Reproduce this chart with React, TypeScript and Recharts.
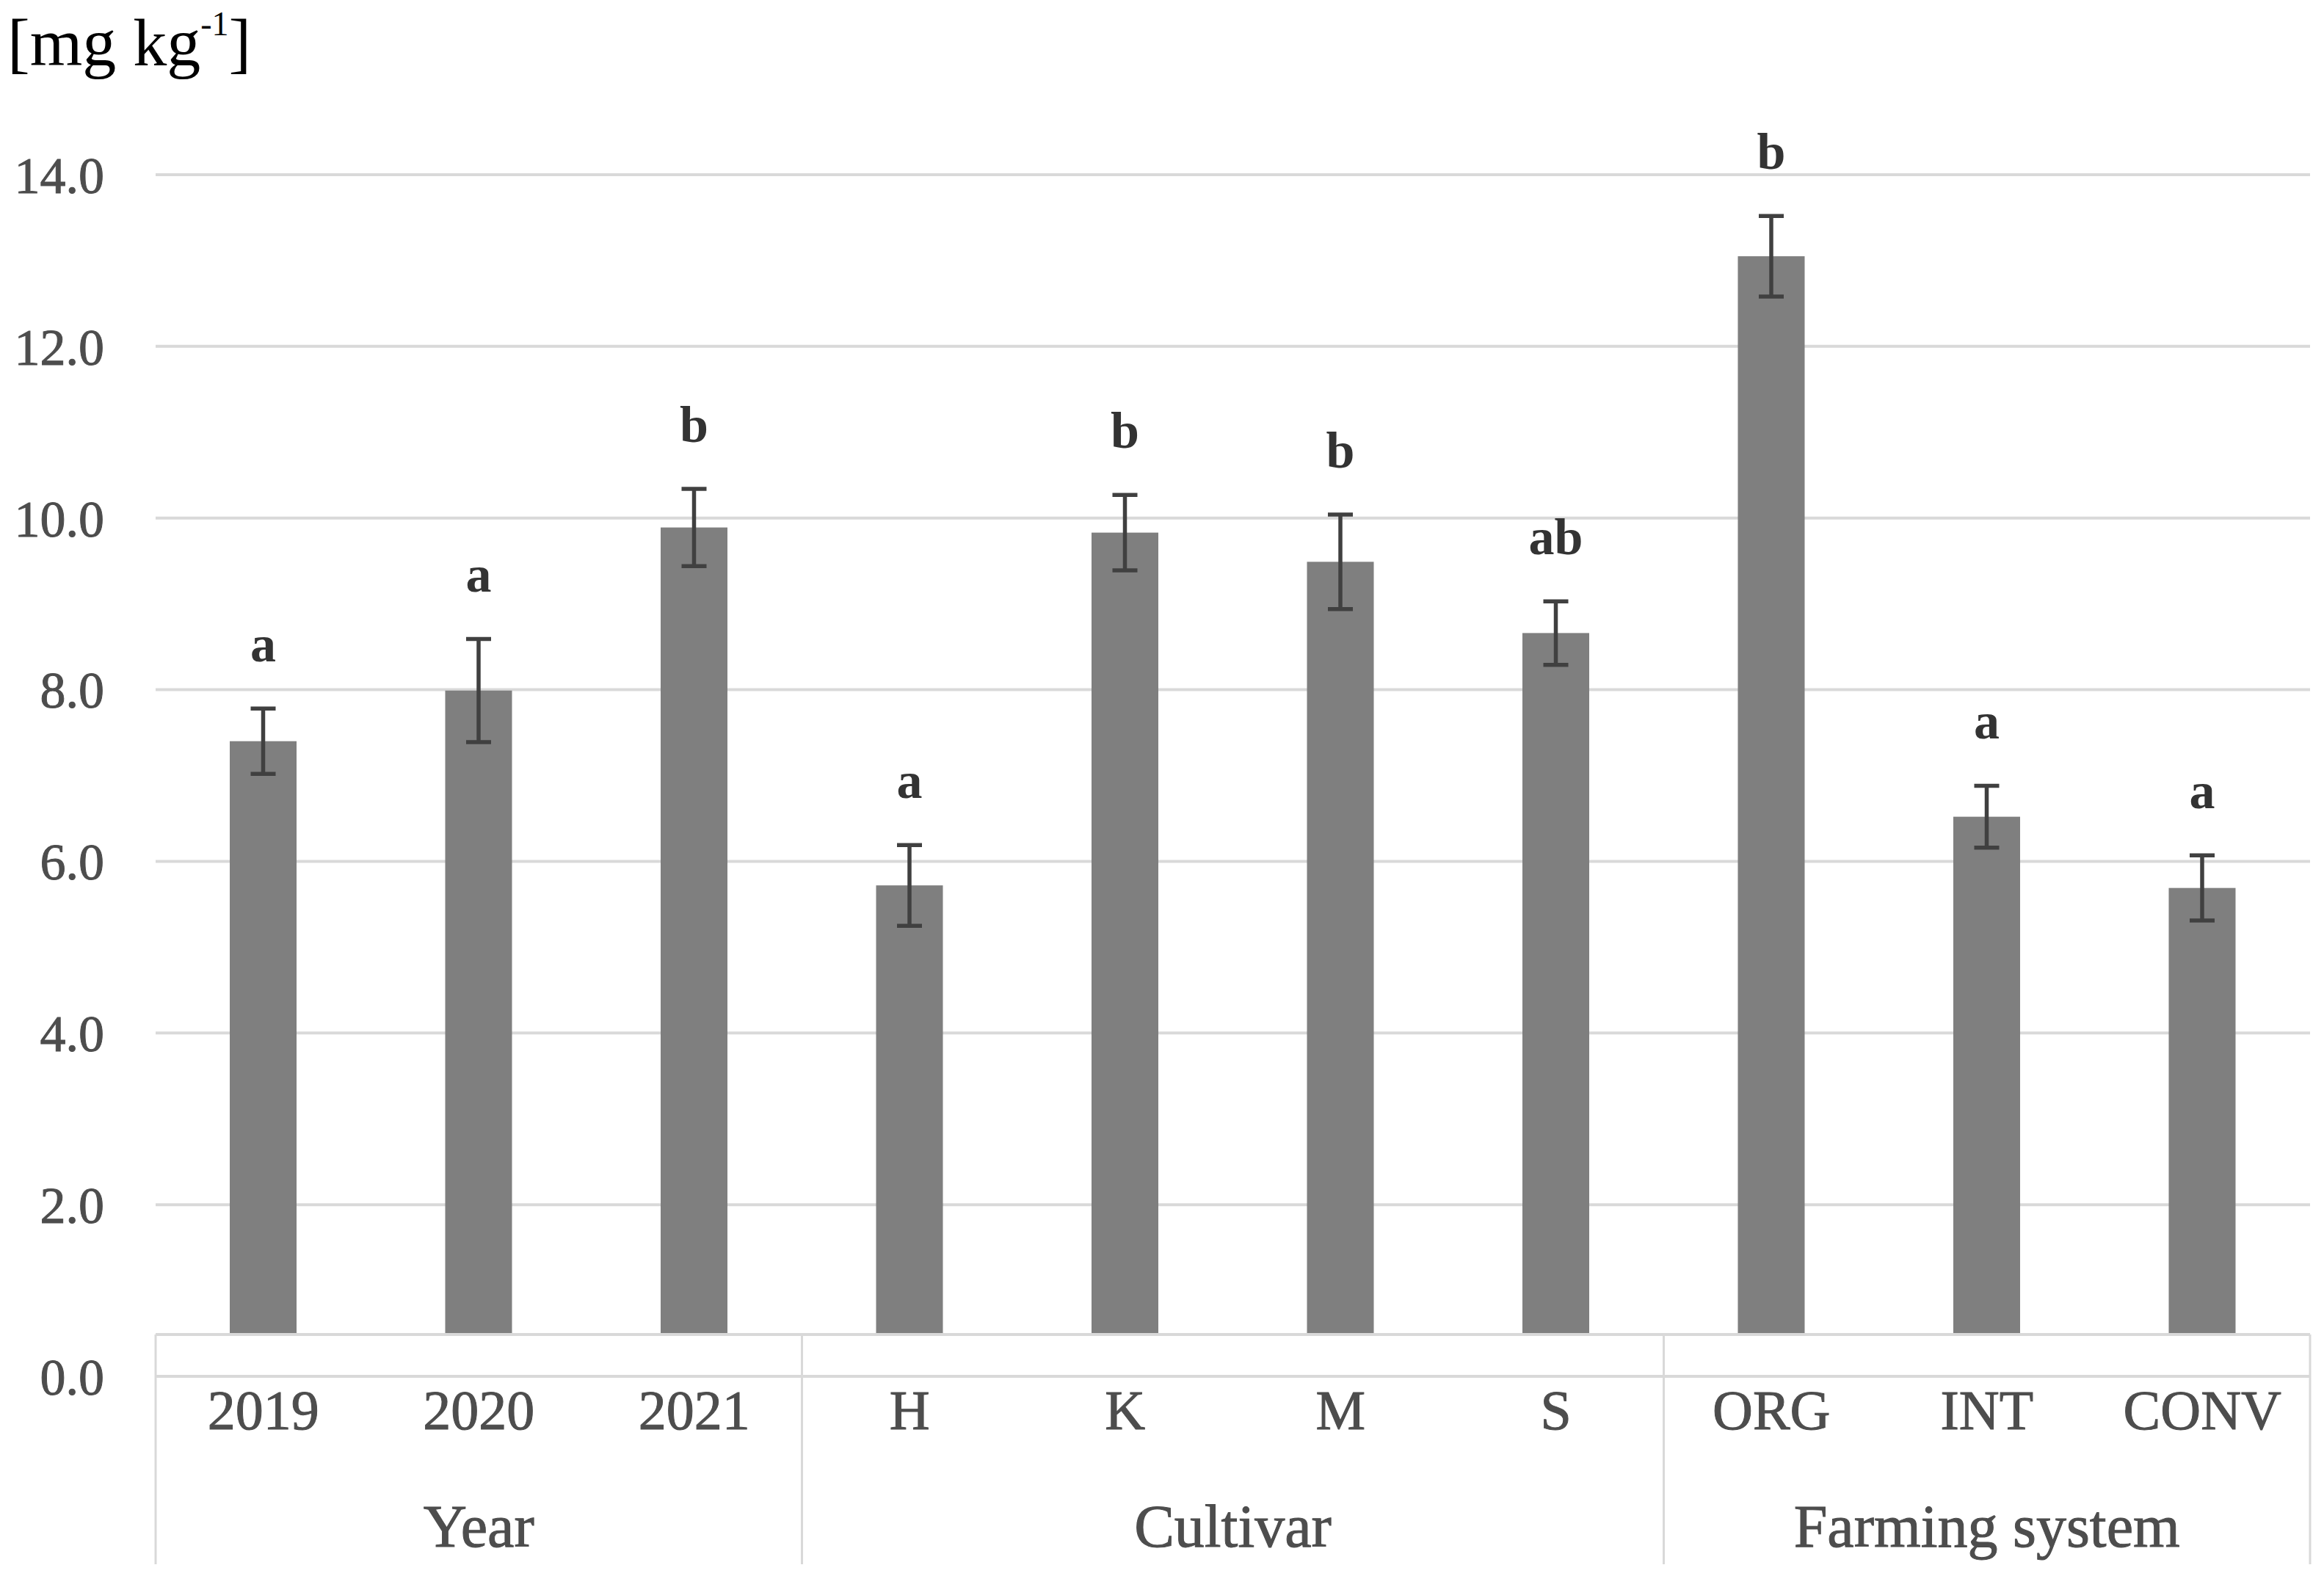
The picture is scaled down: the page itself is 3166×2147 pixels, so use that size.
import React from 'react';
import { BarChart, Bar, XAxis, YAxis, CartesianGrid, ErrorBar, LabelList } from 'recharts';

const categories = ['2019', '2020', '2021', 'H', 'K', 'M', 'S', 'ORG', 'INT', 'CONV'];
const means = [7.4, 7.99, 9.89, 5.72, 9.83, 9.49, 8.66, 13.05, 6.52, 5.69];
const errors = [0.38, 0.6, 0.45, 0.47, 0.44, 0.55, 0.37, 0.47, 0.36, 0.38];
const letters = ['a', 'a', 'b', 'a', 'b', 'b', 'ab', 'b', 'a', 'a'];
const groupNames = ['Year', 'Cultivar', 'Farming system'];
const groupSizes = [3, 4, 3];
const yTicks = [0, 2, 4, 6, 8, 10, 12, 14];

const data = categories.map((name, i) => ({ name, value: means[i], err: errors[i] }));

const FONT = "'Liberation Serif', 'Times New Roman', serif";
const GRID = '#d9d9d9';
const TEXT = '#4d4d4d';
const BOX_GAP = 57; // empty row between the bars and the zero line (Excel multi-level axis)
const LETTER_GAP = 0.55;

// group start index -> group number
const groupStarts: Record<number, number> = {};
groupSizes.reduce((start, size, g) => {
  groupStarts[start] = g;
  return start + size;
}, 0);

const TrimmedBar = (props: any) => {
  const { x, y, width, height, fill } = props;
  return <rect x={x} y={y} width={width} height={Math.max(0, height - BOX_GAP)} fill={fill} />;
};

const textStyle = (size: number) => ({ fontFamily: FONT, fontSize: size });

const CategoryTick = (props: any) => {
  const { x, y, payload, index } = props;
  const n = categories.length;
  const axisWidth = props.width || 2935;
  const band = axisWidth / n;
  const left = x - band / 2;
  const bottom = y + 256;
  const g = groupStarts[index];
  return (
    <g>
      {index === 0 && (
        <line x1={left} x2={left + n * band} y1={y - BOX_GAP} y2={y - BOX_GAP} stroke={GRID} strokeWidth={4} />
      )}
      {g !== undefined && (
        <>
          <line x1={left} x2={left} y1={y - BOX_GAP} y2={bottom} stroke={GRID} strokeWidth={3} />
          <text
            x={left + (groupSizes[g] * band) / 2}
            y={y + 232}
            textAnchor="middle"
            fill={TEXT}
            stroke={TEXT}
            strokeWidth={1}
            style={textStyle(82)}
          >
            {groupNames[g]}
          </text>
        </>
      )}
      {index === n - 1 && (
        <line x1={x + band / 2} x2={x + band / 2} y1={y - BOX_GAP} y2={bottom} stroke={GRID} strokeWidth={3} />
      )}
      <text x={x} y={y + 72} textAnchor="middle" fill={TEXT} stroke={TEXT} strokeWidth={1} style={textStyle(76)}>
        {payload.value}
      </text>
    </g>
  );
};

const ValueTick = (props: any) => {
  const { x, y, payload } = props;
  return (
    <text x={x} y={y} dy="0.355em" textAnchor="end" fill={TEXT} stroke={TEXT} strokeWidth={1} style={textStyle(70)}>
      {Number(payload.value).toFixed(1)}
    </text>
  );
};

const LetterLabel = (props: any) => {
  const { x, y, width, height, index } = props;
  const pxPerUnit = height / means[index];
  const ly = y - (errors[index] + LETTER_GAP) * pxPerUnit;
  return (
    <text
      x={x + width / 2}
      y={ly}
      textAnchor="middle"
      fill="#333333"
      style={{ fontFamily: FONT, fontSize: 70, fontWeight: 'bold' }}
    >
      {letters[index]}
    </text>
  );
};

export default function App() {
  return (
    <div style={{ position: 'relative', width: 3158, height: 2139, background: '#fff' }}>
      <div
        style={{
          position: 'absolute',
          left: 2,
          top: 2,
          fontFamily: FONT,
          fontSize: 92,
          lineHeight: 1,
          color: '#000',
          whiteSpace: 'nowrap',
        }}
      >
        [mg kg<sup style={{ fontSize: '0.5em', verticalAlign: '0.9em' }}>-1</sup>]
      </div>
      <BarChart width={3158} height={2139} data={data} margin={{ top: 230, right: 19, left: 0, bottom: 0 }}>
        <CartesianGrid horizontal vertical={false} stroke={GRID} strokeWidth={4} />
        <YAxis
          width={204}
          domain={[0, 14]}
          ticks={yTicks}
          interval={0}
          axisLine={false}
          tickLine={false}
          tickSize={0}
          tickMargin={70}
          tick={<ValueTick />}
        />
        <XAxis
          dataKey="name"
          height={272}
          interval={0}
          axisLine={false}
          tickLine={false}
          tickSize={0}
          tickMargin={0}
          tick={<CategoryTick />}
        />
        <Bar dataKey="value" fill="#7f7f7f" barSize={91} shape={<TrimmedBar />} isAnimationActive={false}>
          <ErrorBar dataKey="err" width={17} stroke="#404040" strokeWidth={5.5} direction="y" isAnimationActive={false} />
          <LabelList dataKey="value" content={<LetterLabel />} />
        </Bar>
      </BarChart>
    </div>
  );
}
